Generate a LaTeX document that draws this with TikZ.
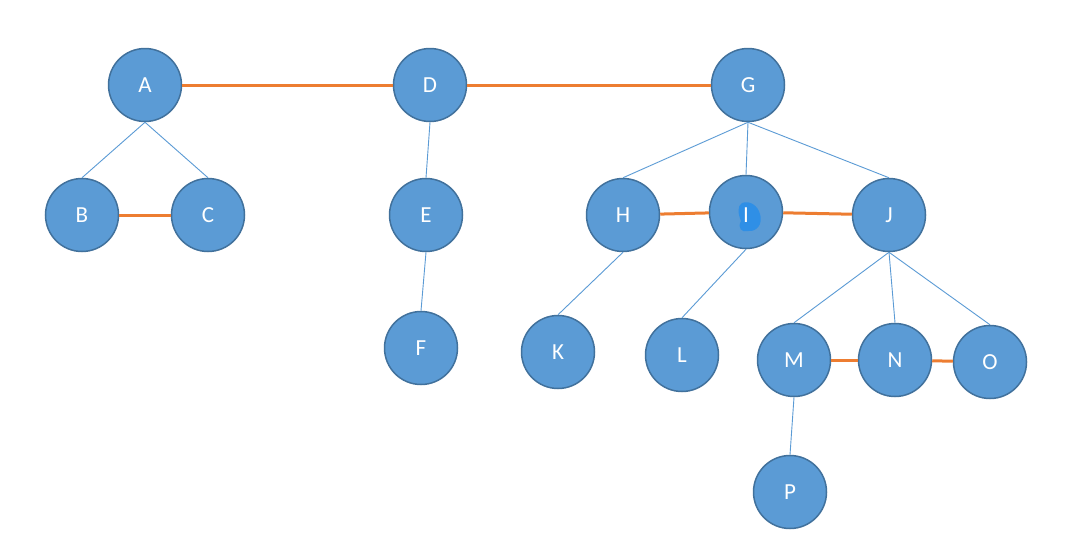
\documentclass[tikz,border=0pt]{standalone}
\usepackage{fontspec}
\setmainfont{Carlito}
\definecolor{nodefill}{HTML}{5B9BD5}
\definecolor{nodeline}{HTML}{41719C}
\definecolor{orangeedge}{HTML}{ED7D31}
\definecolor{thinedge}{HTML}{5B9BD5}
\definecolor{blob}{HTML}{2F8FE6}
\begin{document}
\begin{tikzpicture}[x=1pt,y=-1pt,
  vtx/.style={circle,draw=nodeline,line width=1.5pt,fill=nodefill,minimum size=73pt,inner sep=0pt,text=white,font=\fontsize{23}{24}\selectfont,text depth=-3pt},
  strong/.style={draw=orangeedge,line width=3pt},
  weak/.style={draw=thinedge,line width=0.9pt}]
\useasboundingbox (0,0) rectangle (1089,555);
\fill[white] (0,0) rectangle (1089,555);
\coordinate (cA) at (145,85);
\coordinate (cD) at (430,85);
\coordinate (cG) at (748,85);
\coordinate (cB) at (82,215);
\coordinate (cC) at (208,215);
\coordinate (cE) at (426,215);
\coordinate (cH) at (623,215);
\coordinate (cI) at (746,212);
\coordinate (cJ) at (889,215);
\coordinate (cF) at (421,348);
\coordinate (cK) at (558,352);
\coordinate (cL) at (682,355);
\coordinate (cM) at (794,360);
\coordinate (cN) at (895,360);
\coordinate (cO) at (990,362);
\coordinate (cP) at (790,492);
\node[vtx] (A) at (cA) {A};
\node[vtx] (D) at (cD) {D};
\node[vtx] (G) at (cG) {G};
\node[vtx] (B) at (cB) {B};
\node[vtx] (C) at (cC) {C};
\node[vtx] (E) at (cE) {E};
\node[vtx] (H) at (cH) {H};
\node[vtx] (I) at (cI) {};
\node[vtx] (J) at (cJ) {J};
\node[vtx] (F) at (cF) {F};
\node[vtx] (K) at (cK) {K};
\node[vtx] (L) at (cL) {L};
\node[vtx] (M) at (cM) {M};
\node[vtx] (N) at (cN) {N};
\node[vtx] (O) at (cO) {O};
\node[vtx] (P) at (cP) {P};
% blob on I
\fill[blob] (742,203) .. controls (750,200) and (758,206) .. (760,214)
  .. controls (763,224) and (757,232) .. (748,231)
  .. controls (742,233) and (737,228) .. (741,221)
  .. controls (738,214) and (737,206) .. (742,203) -- cycle;
\node[text=white,font=\fontsize{23}{24}\selectfont,inner sep=0pt] (Ilabel) at (746,215) {I};
% strong edges
\draw[strong] (A) -- (D);
\draw[strong] (D) -- (G);
\draw[strong] (B) -- (C);
\draw[strong] (H) -- (I);
\draw[strong] (I) -- (J);
\draw[strong] (M) -- (N);
\draw[strong] (N) -- (O);
% weak edges
\draw[weak] (A.south) -- (B.north);
\draw[weak] (A.south) -- (C.north);
\draw[weak] (D.south) -- (E.north);
\draw[weak] (E.south) -- (F.north);
\draw[weak] (G.south) -- (H.north);
\draw[weak] (G.south) -- (I.north);
\draw[weak] (G.south) -- (J.north);
\draw[weak] (H.south) -- (K.north);
\draw[weak] (I.south) -- (L.north);
\draw[weak] (J.south) -- (M.north);
\draw[weak] (J.south) -- (N.north);
\draw[weak] (J.south) -- (O.north);
\draw[weak] (M.south) -- (P.north);
\end{tikzpicture}
\end{document}
